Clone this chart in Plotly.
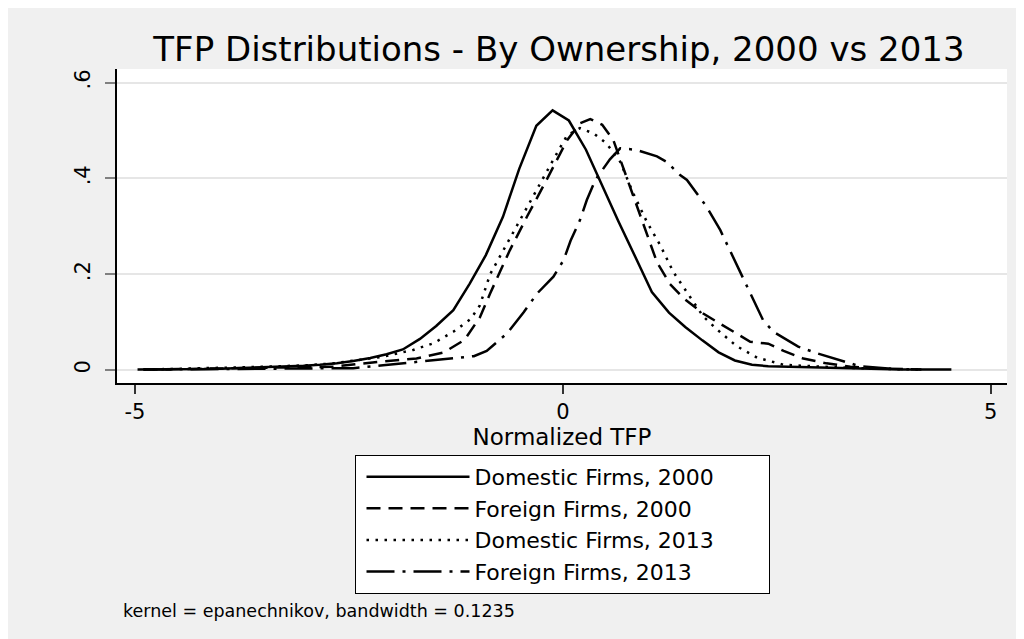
import plotly.graph_objects as go

# ---- data ----
dom00_x = [-4.97, -4.78, -4.58, -4.39, -4.19, -4.00, -3.81, -3.61, -3.42, -3.22,
           -3.03, -2.84, -2.64, -2.45, -2.25, -2.06, -1.87, -1.67, -1.48, -1.28,
           -1.09, -0.90, -0.70, -0.51, -0.31, -0.12, 0.07, 0.27, 0.46, 0.65,
           0.85, 1.04, 1.24, 1.43, 1.63, 1.82, 2.01, 2.21, 2.40, 2.60,
           2.79, 2.98, 3.18, 3.37, 3.57, 3.76, 3.96, 4.15, 4.35, 4.54]
dom00_y = [0.001, 0.001, 0.001, 0.002, 0.002, 0.003, 0.004, 0.005, 0.006, 0.007,
           0.009, 0.011, 0.014, 0.019, 0.025, 0.033, 0.043, 0.065, 0.092, 0.125,
           0.180, 0.240, 0.320, 0.420, 0.510, 0.542, 0.521, 0.460, 0.385, 0.310,
           0.235, 0.163, 0.120, 0.090, 0.062, 0.037, 0.020, 0.011, 0.008, 0.007,
           0.006, 0.005, 0.004, 0.003, 0.002, 0.002, 0.001, 0.001, 0.001, 0.001]

for00_x = [-4.90, -4.00, -3.50, -3.00, -2.68, -2.17, -1.71, -1.39, -1.15, -0.97,
           -0.85, -0.62, -0.42, -0.19, 0.05, 0.20, 0.32, 0.46, 0.59, 0.75,
           0.94, 1.10, 1.25, 1.41, 1.64, 1.95, 2.19, 2.40, 2.58, 2.81,
           3.08, 3.36, 3.75, 4.19]
for00_y = [0.001, 0.003, 0.005, 0.006, 0.007, 0.017, 0.024, 0.037, 0.063, 0.110,
           0.160, 0.250, 0.320, 0.397, 0.480, 0.515, 0.524, 0.512, 0.480, 0.400,
           0.306, 0.225, 0.180, 0.150, 0.118, 0.084, 0.059, 0.055, 0.040, 0.024,
           0.014, 0.007, 0.003, 0.001]

dom13_x = [-4.90, -4.00, -3.46, -3.00, -2.68, -2.10, -1.75, -1.51, -1.28, -1.08,
           -0.97, -0.85, -0.65, -0.46, -0.27, -0.09, 0.05, 0.20, 0.36, 0.51,
           0.67, 0.82, 0.98, 1.14, 1.29, 1.45, 1.64, 1.80, 2.03, 2.27,
           2.58, 3.16, 3.60, 4.19]
dom13_y = [0.001, 0.004, 0.007, 0.010, 0.014, 0.028, 0.042, 0.056, 0.080, 0.106,
           0.135, 0.200, 0.265, 0.327, 0.390, 0.446, 0.490, 0.505, 0.494, 0.473,
           0.435, 0.370, 0.310, 0.260, 0.205, 0.162, 0.112, 0.085, 0.050, 0.026,
           0.011, 0.006, 0.003, 0.001]

for13_x = [-4.90, -3.50, -2.87, -2.45, -2.10, -1.71, -1.43, -1.24, -1.04, -0.89,
           -0.65, -0.46, -0.30, -0.11, 0.01, 0.09, 0.20, 0.28, 0.38, 0.55,
           0.67, 0.85, 1.10, 1.21, 1.37, 1.45, 1.68, 1.84, 1.97, 2.19,
           2.34, 2.46, 2.75, 2.97, 3.24, 3.47, 3.90]
for13_y = [0.001, 0.002, 0.003, 0.004, 0.010, 0.017, 0.021, 0.024, 0.029, 0.040,
           0.077, 0.120, 0.160, 0.195, 0.230, 0.270, 0.313, 0.355, 0.397, 0.440,
           0.463, 0.460, 0.446, 0.435, 0.407, 0.397, 0.341, 0.292, 0.244, 0.160,
           0.104, 0.080, 0.049, 0.035, 0.021, 0.008, 0.002]

series_names = ["Domestic Firms, 2000", "Foreign Firms, 2000",
                "Domestic Firms, 2013", "Foreign Firms, 2013"]
x_ticks = [-5, 0, 5]
x_tick_text = ["-5", "0", "5"]
y_ticks = [0, 0.2, 0.4, 0.6]
y_tick_text = ["0", ".2", ".4", ".6"]

FONT = "DejaVu Sans"
dashes = ["solid", "14px,8px", "2.5px,6.5px", "28px,8px,3px,8px"]
PAD = "\u00a0" * 7  # right padding inside the legend box

fig = go.Figure()
for xs, ys, name, dash in zip([dom00_x, for00_x, dom13_x, for13_x],
                              [dom00_y, for00_y, dom13_y, for13_y],
                              series_names, dashes):
    fig.add_trace(go.Scatter(x=xs, y=ys, mode="lines", name=name + PAD,
                             line=dict(color="black", width=2.5, dash=dash)))

fig.update_layout(
    width=1024, height=631,
    margin=dict(l=109, r=25, t=61, b=256),
    paper_bgcolor="#f0f0f0",
    plot_bgcolor="white",
    font=dict(family=FONT, color="black", size=21),
    title=dict(text="TFP Distributions - By Ownership, 2000 vs 2013",
               font=dict(family=FONT, size=34, color="black"),
               x=0.4966, xref="paper", xanchor="center",
               y=1 - 41 / 631, yref="container", yanchor="middle"),
    showlegend=True,
    legend=dict(x=0.5, xanchor="center", y=-0.229, yanchor="top",
                bgcolor="white", bordercolor="black", borderwidth=1,
                font=dict(family=FONT, size=22, color="black"),
                itemwidth=103, tracegroupgap=0, indentation=6),
    annotations=[dict(text="kernel = epanechnikov, bandwidth = 0.1235",
                      xref="paper", yref="paper", x=0.0045, y=-0.726,
                      xanchor="left", yanchor="middle", showarrow=False,
                      font=dict(family=FONT, size=17.5, color="black"))],
)

fig.update_xaxes(range=[-5.21, 5.19], tickvals=x_ticks, ticktext=x_tick_text,
                 ticks="outside", ticklen=9, tickwidth=1.5, tickcolor="#333333",
                 showgrid=False, zeroline=False,
                 showline=True, linecolor="black", linewidth=1.5,
                 tickfont=dict(family=FONT, size=21),
                 title=dict(text="Normalized TFP", font=dict(family=FONT, size=23),
                            standoff=0))
fig.update_yaxes(range=[-0.027, 0.6285], tickvals=y_ticks, ticktext=y_tick_text,
                 tickangle=-90, ticklabelstandoff=7,
                 ticks="outside", ticklen=10, tickwidth=1.5, tickcolor="#808080",
                 showgrid=True, gridcolor="#e6e6e6", gridwidth=1.5,
                 zeroline=False,
                 showline=True, linecolor="black", linewidth=1.5,
                 tickfont=dict(family=FONT, size=21))

fig.write_html("out.html")
